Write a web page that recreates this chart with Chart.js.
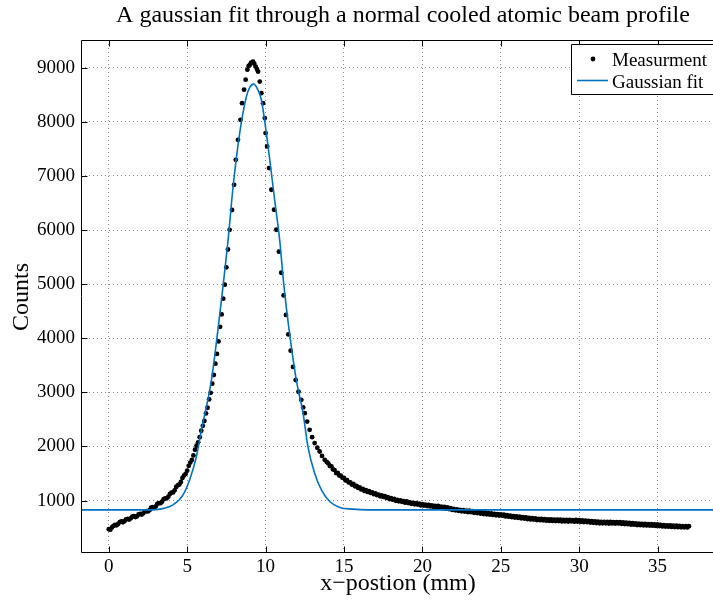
<!DOCTYPE html>
<html>
<head>
<meta charset="utf-8">
<script src="https://cdn.jsdelivr.net/npm/chart.js@4.4.0/dist/chart.umd.min.js"></script>
<style>
html, body { margin: 0; padding: 0; background: #fff; overflow: hidden; }
#wrap { width: 713px; height: 604px; overflow: hidden; }
</style>
</head>
<body>
<div id="wrap"><canvas id="beam-profile" width="740" height="604"></canvas></div>
<script>
const measX = [
    0.0, 0.1, 0.2, 0.3, 0.4, 0.5, 0.6, 0.7, 0.8, 0.9, 1.0, 1.1, 1.2, 1.3, 1.4, 1.5,
    1.6, 1.7, 1.8, 1.9, 2.0, 2.1, 2.2, 2.3, 2.4, 2.5, 2.6, 2.7, 2.8, 2.9, 3.0, 3.1,
    3.2, 3.3, 3.4, 3.5, 3.6, 3.7, 3.8, 3.9, 4.0, 4.1, 4.2, 4.3, 4.4, 4.5, 4.6, 4.7,
    4.8, 4.9, 5.0, 5.1, 5.2, 5.3, 5.4, 5.5, 5.6, 5.7, 5.8, 5.9, 6.0,
    6.1, 6.2, 6.3, 6.4, 6.5, 6.6, 6.7, 6.8, 6.9, 7.0, 7.1, 7.2, 7.3, 7.4, 7.5, 7.6,
    7.71, 7.86, 7.99, 8.1, 8.24, 8.4, 8.5, 8.63, 8.73, 8.84, 8.92, 8.99, 9.08, 9.2,
    9.28, 9.37, 9.45, 9.52, 9.63, 9.73, 9.84, 9.95, 10.0, 10.1, 10.22, 10.37, 10.54,
    10.69, 10.85, 11.0, 11.15, 11.3, 11.45, 11.6, 11.75, 11.92, 12.1, 12.28, 12.4,
    12.5, 12.65, 12.81, 12.97, 13.13, 13.3, 13.45, 13.6, 13.77, 13.9,
    14.0, 14.1, 14.2, 14.3, 14.4, 14.5, 14.6, 14.7, 14.8, 14.9, 15.0, 15.1, 15.2, 15.3,
    15.4, 15.5, 15.6, 15.7, 15.8, 15.9, 16.0, 16.1, 16.2, 16.3, 16.4, 16.5, 16.6, 16.7,
    16.8, 16.9, 17.0, 17.1, 17.2, 17.3, 17.4, 17.5, 17.6, 17.7, 17.8, 17.9, 18.0, 18.1,
    18.2, 18.3, 18.4, 18.5, 18.6, 18.7, 18.8, 18.9, 19.0, 19.1, 19.2, 19.3, 19.4, 19.5,
    19.6, 19.7, 19.8, 19.9, 20.0, 20.1, 20.2, 20.3, 20.4, 20.5, 20.6, 20.7, 20.8, 20.9,
    21.0, 21.1, 21.2, 21.3, 21.4, 21.5, 21.6, 21.7, 21.8, 21.9, 22.0, 22.1, 22.2, 22.3,
    22.4, 22.5, 22.6, 22.7, 22.8, 22.9, 23.0, 23.1, 23.2, 23.3, 23.4, 23.5, 23.6, 23.7,
    23.8, 23.9, 24.0, 24.1, 24.2, 24.3, 24.4, 24.5, 24.6, 24.7, 24.8, 24.9, 25.0, 25.1,
    25.2, 25.3, 25.4, 25.5, 25.6, 25.7, 25.8, 25.9, 26.0, 26.1, 26.2, 26.3, 26.4, 26.5,
    26.6, 26.7, 26.8, 26.9, 27.0, 27.1, 27.2, 27.3, 27.4, 27.5, 27.6, 27.7, 27.8, 27.9,
    28.0, 28.1, 28.2, 28.3, 28.4, 28.5, 28.6, 28.7, 28.8, 28.9, 29.0, 29.1, 29.2, 29.3,
    29.4, 29.5, 29.6, 29.7, 29.8, 29.9, 30.0, 30.1, 30.2, 30.3, 30.4, 30.5, 30.6, 30.7,
    30.8, 30.9, 31.0, 31.1, 31.2, 31.3, 31.4, 31.5, 31.6, 31.7, 31.8, 31.9, 32.0, 32.1,
    32.2, 32.3, 32.4, 32.5, 32.6, 32.7, 32.8, 32.9, 33.0, 33.1, 33.2, 33.3, 33.4, 33.5,
    33.6, 33.7, 33.8, 33.9, 34.0, 34.1, 34.2, 34.3, 34.4, 34.5, 34.6, 34.7, 34.8, 34.9,
    35.0, 35.1, 35.2, 35.3, 35.4, 35.5, 35.6, 35.7, 35.8, 35.9, 36.0, 36.1, 36.2, 36.3,
    36.4, 36.5, 36.6, 36.7, 36.8, 36.9, 37.0
];
const measCounts = [
    471, 462, 503, 531, 548, 541, 566, 601, 612, 598, 618, 652, 662, 649, 671, 703,
    712, 694, 709, 744, 752, 741, 764, 798, 805, 799, 822, 866, 878, 870, 893, 938,
    952, 951, 978, 1024, 1041, 1042, 1072, 1122, 1146, 1150, 1188, 1250, 1281, 1296, 1342, 1418,
    1462, 1490, 1551, 1641, 1702, 1750, 1833, 1938, 2012, 2076, 2170, 2290, 2380,
    2470, 2610, 2715, 2870, 2990, 3160, 3320, 3530, 3710, 3940, 4210, 4440, 4730, 4990, 5310, 5640,
    6004, 6370, 6835, 7297, 7666, 8036, 8345, 8594, 8778, 8963, 9030, 9050, 9095, 9112,
    9075, 9020, 8975, 8928, 8743, 8530, 8345, 8068, 7791, 7545, 7145, 6744, 6374,
    6005, 5600, 5210, 4790, 4430, 4070, 3770, 3470, 3228, 3010, 2861, 2720,
    2615, 2460, 2307, 2170, 2061, 1975, 1906, 1825, 1752, 1712,
    1688, 1640, 1630, 1575, 1562, 1508, 1510, 1462, 1460, 1420, 1418, 1372, 1375, 1335,
    1334, 1296, 1305, 1262, 1270, 1233, 1242, 1205, 1215, 1178, 1190, 1158, 1172, 1140,
    1150, 1118, 1133, 1102, 1110, 1079, 1094, 1066, 1082, 1050, 1062, 1028, 1044, 1016,
    1030, 995, 1012, 985, 1003, 975, 989, 960, 983, 952, 966, 938, 958, 931,
    951, 925, 940, 910, 932, 906, 924, 897, 917, 890, 912, 884, 902, 876,
    899, 868, 889, 859, 880, 851, 873, 842, 858, 826, 846, 818, 838, 810,
    826, 801, 822, 796, 814, 788, 811, 784, 802, 774, 795, 768, 787, 760,
    779, 751, 775, 746, 768, 740, 760, 734, 755, 728, 748, 721, 745, 720,
    738, 706, 728, 701, 720, 693, 712, 684, 708, 680, 701, 672, 692, 666,
    686, 658, 677, 650, 673, 647, 668, 640, 662, 636, 660, 634, 654, 628,
    652, 625, 650, 622, 648, 621, 646, 620, 645, 614, 641, 615, 643, 611,
    640, 617, 639, 609, 642, 612, 636, 607, 634, 603, 628, 601, 624, 592,
    618, 587, 613, 583, 609, 580, 606, 579, 605, 578, 604, 575, 603, 577,
    602, 574, 601, 576, 598, 571, 596, 566, 593, 563, 586, 556, 580, 553,
    575, 547, 571, 544, 568, 542, 567, 539, 565, 538, 561, 535, 560, 531,
    558, 529, 551, 522, 546, 520, 541, 516, 538, 512, 536, 510, 534, 507,
    531, 506, 528, 504, 527, 503, 525
];

// gaussian fit curve
const fitX = [-2, 2.5, 3.0, 3.5, 4.1, 4.74, 5.16, 5.59, 5.91, 6.23, 6.55, 7.0, 7.61, 7.93,
    8.35, 8.78, 9.0, 9.24, 9.5, 9.73, 10.16, 10.58, 10.9, 11.16, 11.57, 11.96, 12.39,
    12.7, 13.13, 13.56, 14.09, 14.73, 15.57, 16.5, 41];
const fitCounts = [828, 828, 832, 855, 920, 1105, 1383, 1813, 2307, 2738, 3231, 4250, 5819, 6804,
    7791, 8467, 8640, 8697, 8600, 8407, 7545, 6555, 5816, 5000, 4000, 3228, 2615,
    1998, 1506, 1198, 982, 871, 841, 828, 828];

const xTicks = [0, 5, 10, 15, 20, 25, 30, 35];
const yTicks = [1000, 2000, 3000, 4000, 5000, 6000, 7000, 8000, 9000];

const chartTitle = 'A gaussian fit through a normal cooled atomic beam profile';
const xLabel = 'x\u2212postion (mm)';
const yLabel = 'Counts';

const serif = '"Liberation Serif", "Times New Roman", serif';
const fitBlue = '#0072bd';

function toPoints(xs, ys) {
    return xs.map((x, i) => ({ x, y: ys[i] }));
}

// open frame with inward ticks, legend box and the texts (matlab look)
const matlabFrame = {
    id: 'matlabFrame',
    afterDatasetsDraw(chart) {
        const { ctx, chartArea: a, scales: { x, y } } = chart;
        const L = Math.round(a.left) + 0.5;
        const R = Math.round(a.right) + 10;
        const T = Math.round(a.top) + 0.5;
        const B = Math.round(a.bottom) - 0.5;
        ctx.save();
        ctx.strokeStyle = '#000';
        ctx.lineWidth = 1;
        ctx.beginPath();
        ctx.moveTo(R, T); ctx.lineTo(L, T); ctx.lineTo(L, B); ctx.lineTo(R, B);
        x.ticks.forEach(t => {
            const px = Math.round(x.getPixelForValue(t.value)) + 0.5;
            ctx.moveTo(px, B); ctx.lineTo(px, B - 6);
            ctx.moveTo(px, T); ctx.lineTo(px, T + 6);
        });
        y.ticks.forEach(t => {
            const py = Math.round(y.getPixelForValue(t.value)) + 0.5;
            ctx.moveTo(L, py); ctx.lineTo(L + 6, py);
        });
        ctx.stroke();

        // legend
        const meas = chart.data.datasets[1];
        const fit = chart.data.datasets[0];
        ctx.fillStyle = '#fff';
        ctx.fillRect(571.5, 44.5, 200, 50);
        ctx.beginPath();
        ctx.moveTo(R, 44.5); ctx.lineTo(571.5, 44.5); ctx.lineTo(571.5, 94.5); ctx.lineTo(R, 94.5);
        ctx.stroke();
        ctx.fillStyle = '#000';
        ctx.beginPath();
        ctx.arc(593, 59, 2.4, 0, Math.PI * 2);
        ctx.fill();
        ctx.strokeStyle = fitBlue;
        ctx.lineWidth = 1.6;
        ctx.beginPath();
        ctx.moveTo(577, 80.5); ctx.lineTo(608, 80.5);
        ctx.stroke();
        ctx.font = `19px ${serif}`;
        ctx.textAlign = 'left';
        ctx.textBaseline = 'alphabetic';
        ctx.fillText(meas.label, 612, 66);
        ctx.fillText(fit.label, 612, 87.5);

        // title and axis labels
        ctx.textAlign = 'center';
        ctx.font = `24px ${serif}`;
        ctx.fillText(chartTitle, 403, 22);
        ctx.fillText(xLabel, 398, 590);
        ctx.translate(28, 297);
        ctx.rotate(-Math.PI / 2);
        ctx.fillText(yLabel, 0, 0);
        ctx.restore();
    }
};

const tickFont = { family: serif, size: 19 };

new Chart(document.getElementById('beam-profile').getContext('2d'), {
    type: 'scatter',
    data: {
        datasets: [
            {
                label: 'Gaussian fit',
                data: toPoints(fitX, fitCounts),
                showLine: true,
                borderColor: fitBlue,
                borderWidth: 1.6,
                pointRadius: 0,
                cubicInterpolationMode: 'monotone',
                order: 0
            },
            {
                label: 'Measurment',
                data: toPoints(measX, measCounts),
                showLine: false,
                pointRadius: 2.4,
                pointBackgroundColor: '#000',
                pointBorderColor: '#000',
                pointBorderWidth: 0,
                order: 1
            }
        ]
    },
    options: {
        responsive: false,
        animation: false,
        devicePixelRatio: 1,
        layout: { padding: { top: 40, right: 4, left: 0, bottom: 0 } },
        plugins: {
            legend: { display: false },
            tooltip: { enabled: false },
            title: { display: false }
        },
        scales: {
            x: {
                type: 'linear',
                min: -1.77,
                max: 40,
                afterBuildTicks: s => { s.ticks = xTicks.map(v => ({ value: v })); },
                afterFit: s => { s.height = 51; },
                ticks: { font: tickFont, color: '#000', padding: 3, maxRotation: 0, callback: v => String(v) },
                grid: { color: '#8a8a8a', drawTicks: false, lineWidth: 1 },
                border: { display: false, dash: [1, 3] }
            },
            y: {
                type: 'linear',
                min: 30,
                max: 9512,
                afterBuildTicks: s => { s.ticks = yTicks.map(v => ({ value: v })); },
                afterFit: s => { s.width = 81; },
                ticks: { font: tickFont, color: '#000', padding: 6, callback: v => String(v) },
                grid: { color: '#8a8a8a', drawTicks: false, lineWidth: 1 },
                border: { display: false, dash: [1, 3] }
            }
        }
    },
    plugins: [matlabFrame]
});
</script>
</body>
</html>
